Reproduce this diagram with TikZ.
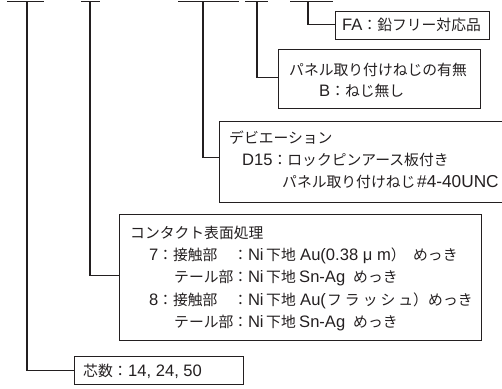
\documentclass[tikz,border=0pt]{standalone}
\usepackage{fontspec}
\setmainfont{Noto Sans CJK JP}
\newfontfamily\lat{Liberation Sans}[Scale=1.12]
\definecolor{ink}{RGB}{35,31,32}
\begin{document}
\begin{tikzpicture}[x=1bp,y=-1bp,
  ln/.style={draw=ink, line width=1.3bp},
  box/.style={draw=ink, line width=1.3bp, inner sep=0pt, anchor=north west},
  txt/.style={anchor=base west, inner sep=0pt, text=ink, font=\fontsize{14.8bp}{18bp}\selectfont}]
\useasboundingbox (0,0) rectangle (502,388);
% top bars
\coordinate (b1l) at (7,1.5);   \coordinate (b1r) at (44,1.5);  \coordinate (v1) at (27,1.5);
\coordinate (b2l) at (81,1.5);  \coordinate (b2r) at (100,1.5); \coordinate (v2) at (90,1.5);
\coordinate (b3l) at (178,1.5); \coordinate (b3r) at (239,1.5); \coordinate (v3) at (203,1.5);
\coordinate (b4l) at (245,1.5); \coordinate (b4r) at (268,1.5); \coordinate (v4) at (257,1.5);
\coordinate (b5l) at (290,1.5); \coordinate (b5r) at (333,1.5); \coordinate (v5) at (308,1.5);
\foreach \i in {1,...,5} {\draw[ln] (b\i l) -- (b\i r);}
% boxes
\node[box, minimum width=154bp, minimum height=28bp] (fa) at (335,10.5) {};
\node[box, minimum width=202bp, minimum height=59bp] (pan) at (278,49) {};
\node[box, minimum width=301bp, minimum height=81bp] (dev) at (219,121) {};
\node[box, minimum width=362bp, minimum height=126bp] (con) at (119,214) {};
\node[box, minimum width=169bp, minimum height=28bp] (cnt) at (73.5,356) {};
% connectors
\draw[ln] (v5) |- ([yshift=1bp]fa.west);
\draw[ln] (v4) |- ([yshift=1.5bp]pan.west);
\draw[ln] (v3) |- ([yshift=4.5bp]dev.west);
\draw[ln] (v2) |- ([yshift=2.5bp]con.west);
\draw[ln] (v1) |- (cnt.west);
% texts
\node[txt] (faT) at (342,30.6) {{\lat FA}：鉛フリー対応品};
\node[txt] (panA) at (289,75.6) {パネル取り付けねじの有無};
\node[txt] (panB) at (319,96) {{\lat B}：ねじ無し};
\node[txt] (devA) at (229,143.6) {デビエーション};
\node[txt] (devB) at (242,165.6) {{\lat D15}：ロックピンアース板付き};
\node[txt] (devC) at (282,187.6) {\makebox[135bp][l]{パネル取り付けねじ}{\fontsize{15.4bp}{18bp}\lat\#4-40UNC}};
\node[txt] (conA) at (130,238.6) {コンタクト表面処理};
\node[txt] (conB) at (149,260.6) {\makebox[9bp][l]{\lat 7}\makebox[75bp][l]{：接触部}\makebox[33bp][l]{：{\lat Ni}}\makebox[34bp][l]{下地}\makebox[113bp][l]{{\lat Au(0.38 μ m}）}めっき};
\node[txt] (conC) at (174,282.6) {\makebox[59bp][l]{テール部}\makebox[33bp][l]{：{\lat Ni}}\makebox[33bp][l]{下地}\makebox[54bp][l]{\lat Sn-Ag}めっき};
\node[txt] (conD) at (149,305.6) {\makebox[9bp][l]{\lat 8}\makebox[75bp][l]{：接触部}\makebox[33bp][l]{：{\lat Ni}}\makebox[34bp][l]{下地}\makebox[27bp][l]{\lat Au(}\makebox[86bp][s]{フ\hfill ラ\hfill ッ\hfill シ\hfill ュ}\makebox[15bp][l]{）}めっき};
\node[txt] (conE) at (174,327.6) {\makebox[59bp][l]{テール部}\makebox[33bp][l]{：{\lat Ni}}\makebox[33bp][l]{下地}\makebox[54bp][l]{\lat Sn-Ag}めっき};
\node[txt] (cntT) at (83,376.6) {\makebox[45bp][l]{芯数：}{\lat 14, 24, 50}};
\end{tikzpicture}
\end{document}
